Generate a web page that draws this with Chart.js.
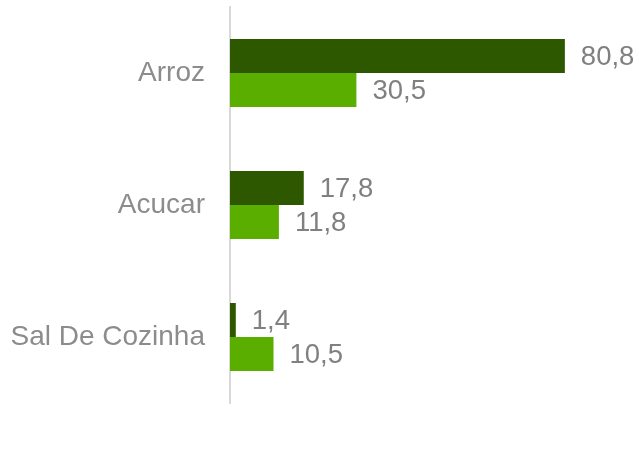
<!DOCTYPE html>
<html>
<head>
<meta charset="utf-8">
<script src="https://cdn.jsdelivr.net/npm/chart.js@4"></script>
<style>
  html, body { margin: 0; padding: 0; background: #fff; }
  canvas { display: block; }
</style>
</head>
<body>
<canvas id="grafico" width="639" height="455"></canvas>
<script>
const categorias = ['Arroz', 'Acucar', 'Sal De Cozinha'];
const serieEscura = [80.8, 17.8, 1.4];
const serieClara = [30.5, 11.8, 10.5];

const fonte = '"Liberation Sans", Arial, sans-serif';

// escreve o valor no fim de cada barra (formato pt-BR com virgula)
const rotulosValores = {
    id: 'rotulosValores',
    afterDatasetsDraw(chart) {
        const ctx = chart.ctx;
        ctx.save();
        ctx.font = '27.5px ' + fonte;
        ctx.fillStyle = '#808080';
        ctx.textAlign = 'left';
        ctx.textBaseline = 'middle';
        chart.data.datasets.forEach((ds, i) => {
            chart.getDatasetMeta(i).data.forEach((barra, j) => {
                const texto = ds.data[j].toFixed(1).replace('.', ',');
                ctx.fillText(texto, barra.x + 16, barra.y + 1);
            });
        });
        ctx.restore();
    }
};

const dados = {
    labels: categorias,
    datasets: [
        {
            label: 'Serie 1',
            data: serieEscura,
            backgroundColor: '#2e5800',
            borderWidth: 0
        },
        {
            label: 'Serie 2',
            data: serieClara,
            backgroundColor: '#5aae00',
            borderWidth: 0
        }
    ]
};

const config = {
    type: 'bar',
    data: dados,
    options: {
        indexAxis: 'y',
        responsive: false,
        animation: false,
        categoryPercentage: 0.515,
        barPercentage: 1,
        layout: {
            padding: { top: 7, bottom: 52, right: 36, left: 0 }
        },
        plugins: {
            legend: { display: false },
            tooltip: { enabled: false }
        },
        scales: {
            x: {
                display: false,
                min: 0,
                max: 90
            },
            y: {
                grid: { display: false, drawTicks: false },
                border: { display: true, color: '#d9d9d9', width: 2 },
                ticks: {
                    color: '#8c8c8c',
                    padding: 25,
                    font: { family: fonte, size: 28 }
                },
                afterFit(scale) {
                    scale.width = 230;
                    scale.paddingTop = 0;
                    scale.paddingBottom = 0;
                }
            }
        }
    },
    plugins: [rotulosValores]
};

const instanciaGrafico = new Chart(document.getElementById('grafico'), config);
</script>
</body>
</html>
